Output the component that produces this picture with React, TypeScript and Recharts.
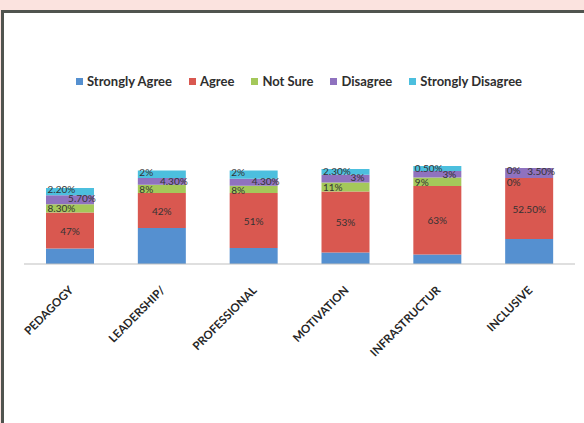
import { BarChart, Bar, XAxis, YAxis, Legend, LabelList } from "recharts"

const categories = ["PEDAGOGY", "LEADERSHIP/", "PROFESSIONAL", "MOTIVATION", "INFRASTRUCTUR", "INCLUSIVE"]

// segment sizes as drawn on the bars (the printed % labels don't add up, so the heights are read off the picture)
const stronglyAgree = [15.5, 36, 16, 11.5, 9.5, 25]
const agree = [36, 35, 55, 61, 68.5, 61]
const notSure = [8.3, 8.3, 7.3, 9, 8.4, 0]
const disagree = [9, 6.7, 7, 7.7, 6.6, 10]
const stronglyDisagree = [7.3, 7.6, 8.3, 5.7, 5, 0]

// labels as printed in the chart
const agreeLabels = ["47%", "42%", "51%", "53%", "63%", "52.50%"]
const notSureLabels = ["8.30%", "8%", "8%", "11%", "9%", "0%"]
const disagreeLabels = ["5.70%", "4.30%", "4.30%", "3%", "3%", "3.50%"]
const stronglyDisagreeLabels = ["2.20%", "2%", "2%", "2.30%", "0.50%", "0%"]

const series = [
  { key: "sa", name: "Strongly Agree", color: "#5590d0" },
  { key: "a", name: "Agree", color: "#d95850" },
  { key: "ns", name: "Not Sure", color: "#a4c85a" },
  { key: "d", name: "Disagree", color: "#8f72bf" },
  { key: "sd", name: "Strongly Disagree", color: "#4cbfde" },
]

const data = categories.map((cat, i) => ({
  cat,
  sa: stronglyAgree[i],
  a: agree[i],
  ns: notSure[i],
  d: disagree[i],
  sd: stronglyDisagree[i],
  aLabel: agreeLabels[i],
  nsLabel: notSureLabels[i],
  dLabel: disagreeLabels[i],
  sdLabel: stronglyDisagreeLabels[i],
}))

const FONT = "Lato, 'Open Sans', sans-serif"

const labelText = (x: number, y: number, anchor: "start" | "middle", value: any) => (
  <text
    x={x}
    y={y}
    textAnchor={anchor}
    dominantBaseline="central"
    fontFamily={FONT}
    fontSize={10}
    fill="#333"
  >
    {value}
  </text>
)

function box(props: any) {
  const vb = props.viewBox ?? props
  return {
    x: Number(vb.x ?? props.x),
    y: Number(vb.y ?? props.y),
    w: Number(vb.width ?? props.width),
    h: Number(vb.height ?? props.height),
  }
}

// where each series puts its label inside / next to the segment
function makeLabel(kind: "a" | "ns" | "d" | "sd") {
  return (props: any) => {
    const { x, y, w, h } = box(props)
    const i = props.index
    if (kind === "a") return labelText(x + w / 2, y + h / 2, "middle", props.value)
    if (kind === "sd") {
      if (stronglyDisagree[i] === 0) return null
      return labelText(x + 1.5, y + 1.5, "start", props.value)
    }
    if (kind === "ns") {
      if (notSure[i] === 0) return null
      return labelText(x + 1.5, y + 4, "start", props.value)
    }
    // disagree: also carries the labels of empty neighbours (zero-height segments get no label of their own)
    return (
      <g>
        {labelText(x + w / 2 + 12, y + 2.5, "middle", props.value)}
        {notSure[i] === 0 && labelText(x + 1.5, y + h + 4, "start", notSureLabels[i])}
        {stronglyDisagree[i] === 0 && labelText(x + 1.5, y + 2, "start", stronglyDisagreeLabels[i])}
      </g>
    )
  }
}

const CatTick = ({ x, y, payload }: any) => {
  const ax = x + 4
  const ay = y + 27
  return (
    <text
      x={ax}
      y={ay}
      transform={`rotate(-45 ${ax} ${ay})`}
      textAnchor="end"
      fontFamily={FONT}
      fontSize={11.5}
      fontWeight={700}
      fill="#262626"
    >
      {payload.value}
    </text>
  )
}

const renderLegend = () => (
  <div style={{ display: "flex", paddingLeft: 76, fontFamily: FONT, fontSize: 13, fontWeight: 700, color: "#2e2e2e", lineHeight: "16px" }}>
    {series.map((s) => (
      <div key={s.key} style={{ display: "flex", alignItems: "center", marginRight: 17 }}>
        <span style={{ width: 7, height: 7, background: s.color, marginRight: 4, display: "inline-block" }} />
        <span>{s.name}</span>
      </div>
    ))}
  </div>
)

export default function App() {
  return (
    <div style={{ position: "fixed", left: 0, top: 0, width: 584, height: 423, background: "#fbe3df", overflow: "hidden" }}>
      <div
        style={{
          position: "absolute",
          left: 1,
          top: 10,
          width: 600,
          height: 430,
          background: "#fff",
          borderTop: "3px solid #50544f",
          borderLeft: "3px solid #50544f",
        }}
      />
      <div style={{ position: "absolute", left: 0, top: 0 }}>
        <BarChart width={584} height={423} data={data} margin={{ top: 164, right: 9, bottom: 129, left: 24 }}>
          <XAxis
            dataKey="cat"
            height={30}
            axisLine={{ stroke: "#bfbfbf" }}
            tickLine={false}
            tickSize={0}
            tickMargin={0}
            interval={0}
            tick={<CatTick />}
          />
          <YAxis hide domain={[0, 100]} />
          <Legend
            verticalAlign="middle"
            align="center"
            layout="horizontal"
            wrapperStyle={{ top: 73, left: 0, width: 584 }}
            content={renderLegend}
          />
          <Bar dataKey="sa" name="Strongly Agree" stackId="s" fill={series[0].color} barSize={48} isAnimationActive={false} />
          <Bar dataKey="a" name="Agree" stackId="s" fill={series[1].color} barSize={48} isAnimationActive={false}>
            <LabelList dataKey="aLabel" content={makeLabel("a")} />
          </Bar>
          <Bar dataKey="ns" name="Not Sure" stackId="s" fill={series[2].color} barSize={48} isAnimationActive={false}>
            <LabelList dataKey="nsLabel" content={makeLabel("ns")} />
          </Bar>
          <Bar dataKey="d" name="Disagree" stackId="s" fill={series[3].color} barSize={48} isAnimationActive={false}>
            <LabelList dataKey="dLabel" content={makeLabel("d")} />
          </Bar>
          <Bar dataKey="sd" name="Strongly Disagree" stackId="s" fill={series[4].color} barSize={48} isAnimationActive={false}>
            <LabelList dataKey="sdLabel" content={makeLabel("sd")} />
          </Bar>
        </BarChart>
      </div>
    </div>
  )
}
